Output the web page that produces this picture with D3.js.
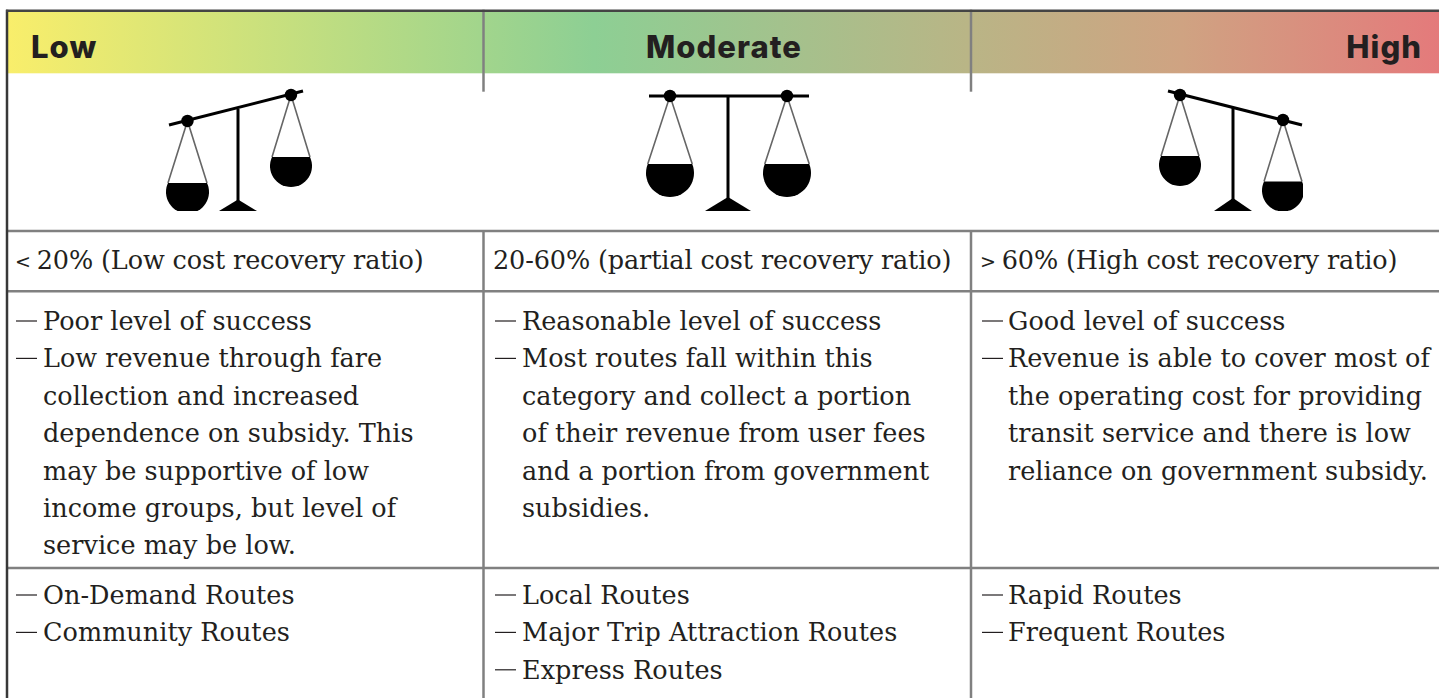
<!DOCTYPE html>
<html><head><meta charset="utf-8">
<script src="https://cdnjs.cloudflare.com/ajax/libs/d3/7.8.5/d3.min.js"></script>
<style>html,body{margin:0;padding:0;background:#fff;overflow:hidden}svg{display:block}</style>
</head><body><svg id="c" width="1439" height="698"></svg>
<script>
const levels = ["Low","Moderate","High"];
const levelAnchors = ["start","middle","end"];
const ratioMarks = ["< ","",  "> "];
const ratios = ["20% (Low cost recovery ratio)","20-60% (partial cost recovery ratio)","60% (High cost recovery ratio)"];
const descLow = [["Poor level of success"],["Low revenue through fare","collection and increased","dependence on subsidy. This","may be supportive of low","income groups, but level of","service may be low."]];
const descMod = [["Reasonable level of success"],["Most routes fall within this","category and collect a portion","of their revenue from user fees","and a portion from government","subsidies."]];
const descHigh = [["Good level of success"],["Revenue is able to cover most of","the operating cost for providing","transit service and there is low","reliance on government subsidy."]];
const routesLow = [["On-Demand Routes"],["Community Routes"]];
const routesMod = [["Local Routes"],["Major Trip Attraction Routes"],["Express Routes"]];
const routesHigh = [["Rapid Routes"],["Frequent Routes"]];
const gradStops = [[0,"#f9ee6b"],[0.41,"#8dcf94"],[0.67,"#b9b586"],[0.82,"#cfa382"],[1,"#e47a7b"]];

const svg = d3.select("#c");
const colX = d3.scaleOrdinal().domain([0,1,2,3]).range([7,483.5,971,1439]);
const textX = [15,493,980];
const bulletX = [16,495,982];
const hangX = [43,522,1008];
const rowY = {top:10.7,head:73.3,iconEnd:231,ratioEnd:291.3,descEnd:568,end:698};
const SERIF = "'DejaVu Serif'";
const LINE = 37.4;

const g = svg.append("defs").append("linearGradient").attr("id","hg");
g.selectAll("stop").data(gradStops).join("stop").attr("offset",d=>d[0]).attr("stop-color",d=>d[1]);
svg.append("rect").attr("x",colX(0)).attr("y",rowY.top).attr("width",1439-colX(0)).attr("height",rowY.head-rowY.top).attr("fill","url(#hg)");

// grid
const grey="#808080", SW=2.5;
[rowY.iconEnd,rowY.ratioEnd,rowY.descEnd].forEach(y=>svg.append("line").attr("x1",colX(0)+1).attr("x2",1439).attr("y1",y).attr("y2",y).attr("stroke",grey).attr("stroke-width",SW));
[1,2].forEach(i=>{
  svg.append("line").attr("x1",colX(i)).attr("x2",colX(i)).attr("y1",rowY.top-1).attr("y2",91.7).attr("stroke",grey).attr("stroke-width",SW);
  svg.append("line").attr("x1",colX(i)).attr("x2",colX(i)).attr("y1",rowY.iconEnd).attr("y2",rowY.end).attr("stroke",grey).attr("stroke-width",SW);
});
svg.append("line").attr("x1",colX(0)).attr("x2",colX(0)).attr("y1",rowY.top-1).attr("y2",rowY.end).attr("stroke","#383838").attr("stroke-width",SW);
svg.append("line").attr("x1",colX(0)-1).attr("x2",1439).attr("y1",rowY.top).attr("y2",rowY.top).attr("stroke","#444").attr("stroke-width",SW);

// headers
const headX=[31,724,1422];
svg.selectAll("text.h").data(levels).join("text").attr("class","h")
 .attr("x",(d,i)=>headX[i]).attr("y",58).attr("text-anchor",(d,i)=>levelAnchors[i])
 .attr("font-family","Inter").attr("font-weight",800).attr("font-size",31).attr("letter-spacing",1.05).attr("fill","#231f20").text(d=>d);

// balance scales
const scales=[
 {bar:[169,125,303,91],l:[187.5,121],r:[291,95],post:238,postTop:109,lr:21.5,rr:21,lPan:183,rPan:157,base:[238,199.5,19],clipR:330},
 {bar:[649,96,809,96],l:[670,96],r:[787,96],post:728,postTop:96,lr:24,rr:24,lPan:164,rPan:164,base:[728,197,23],clipR:830},
 {bar:[1168,91,1302,125],l:[1180,95],r:[1283,120],post:1233,postTop:108,lr:21,rr:21,lPan:156,rPan:181.5,base:[1233,198,19],clipR:1303}
];
const clipBottom=211;
scales.forEach((s,i)=>{
 const k=svg.append("g");
 const cid="cl"+i;
 svg.select("defs").append("clipPath").attr("id",cid).append("rect").attr("x",s.bar[0]-40).attr("y",80).attr("width",s.clipR-s.bar[0]+40).attr("height",clipBottom-80);
 k.attr("clip-path",`url(#${cid})`);
 k.append("line").attr("x1",s.bar[0]).attr("y1",s.bar[1]).attr("x2",s.bar[2]).attr("y2",s.bar[3]).attr("stroke","#000").attr("stroke-width",3);
 k.append("line").attr("x1",s.post).attr("x2",s.post).attr("y1",s.postTop).attr("y2",205).attr("stroke","#000").attr("stroke-width",3);
 k.append("path").attr("d",`M${s.base[0]-s.base[2]},${clipBottom}L${s.base[0]},${s.base[1]}L${s.base[0]+s.base[2]},${clipBottom}Z`).attr("fill","#000");
 [[s.l,s.lr,s.lPan],[s.r,s.rr,s.rPan]].forEach(([p,r,py])=>{
  const hw=Math.sqrt(r*r-81);
  k.append("path").attr("d",`M${p[0]-hw},${py}L${p[0]},${p[1]}L${p[0]+hw},${py}`).attr("fill","none").attr("stroke","#666").attr("stroke-width",1.6);
  k.append("path").attr("d",`M${p[0]-hw},${py}A${r},${r} 0 1 0 ${p[0]+hw},${py}Z`).attr("fill","#000");
  k.append("circle").attr("cx",p[0]).attr("cy",p[1]).attr("r",6.2).attr("fill","#000");
 });
});

function txt(x,y,s,mark){
 const t=svg.append("text").attr("x",x).attr("y",y).attr("font-family",SERIF).attr("font-size",25.5).attr("fill","#231f20").attr("letter-spacing",mark===undefined?0.03:-0.12);
 if(mark){
  t.append("tspan").attr("font-size",19).attr("dy",-1.5).text(mark);
  t.append("tspan").attr("dy",1.5).text(s);
 } else t.append("tspan").text(s);
}
ratios.forEach((r,i)=>txt(textX[i],269,r,ratioMarks[i]));
function block(items,i,y0){
 let y=y0;
 items.forEach(it=>{
  svg.append("line").attr("x1",bulletX[i]).attr("x2",bulletX[i]+21).attr("y1",y-9).attr("y2",y-9).attr("stroke","#231f20").attr("stroke-width",1.2);
  it.forEach(l=>{txt(hangX[i],y,l);y+=LINE;});
 });
}
[descLow,descMod,descHigh].forEach((d,i)=>block(d,i,330));
[routesLow,routesMod,routesHigh].forEach((d,i)=>block(d,i,604));
</script></body></html>
